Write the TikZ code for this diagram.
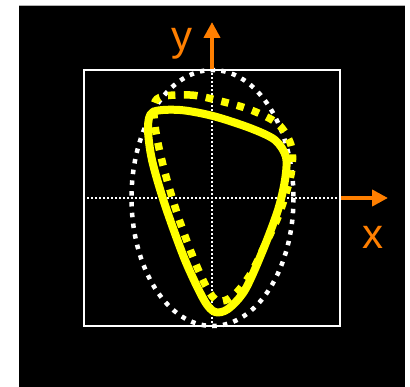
\documentclass[tikz,border=0pt]{standalone}
\usepackage{fontspec}
\setmainfont{Liberation Sans}
\usepackage{xcolor}
\usepackage{tikz}
\usetikzlibrary{positioning,arrows.meta,calc}
\definecolor{pbg}{HTML}{000000}
\definecolor{paxis}{HTML}{FF7F00}
\definecolor{pyel}{HTML}{FFFF00}
\tikzset{
  frame/.style   ={draw=white, line width=1.5pt, minimum size=256pt, inner sep=0pt},
  cross/.style   ={draw=white, line width=1.3pt, dash pattern=on 1.5pt off 2.5pt},
  circdot/.style ={draw=white, line width=4.5pt, dash pattern=on 4.5pt off 6.3pt},
  orbit/.style   ={draw=pyel, line width=8pt, line join=round},
  orbitdot/.style={draw=pyel, line width=7.5pt, dash pattern=on 7.5pt off 8.5pt},
  axis/.style    ={-{Triangle[length=16pt, width=16pt]}, line width=4pt, draw=paxis},
  axlab/.style   ={text=paxis, font=\fontsize{42}{42}\selectfont, inner sep=0pt, anchor=base},
}

\begin{document}
\begin{tikzpicture}[x=1pt, y=-1pt]
  \useasboundingbox (0,0) rectangle (410,387);
  \fill[pbg] (19,5) rectangle (405,387);
  \draw[gray!60, line width=1pt] (19,5.5) -- (405,5.5);

  \node[frame] (box) at (212,198) {};
  \draw[cross] (box.west) -- (box.east);
  \draw[cross] (box.north) -- (box.south);

  % reference ellipse
  \draw[circdot] (212.5,198) ellipse [x radius=81, y radius=128];

  % dotted orbit
  \draw[orbitdot] plot[smooth cycle, tension=0.55] coordinates {
    (157,99) (190,95) (220,101) (251,110) (278,124) (291,145) (292,168)
    (287,190) (278,217) (265,245) (250,275) (233,296) (218,301)
    (207,288) (193,257) (177,213) (163,165) (155,125)};

  % solid orbit
  \draw[orbit] plot[smooth cycle, tension=0.5] coordinates {
    (153,112) (180,110) (213,116) (250,128) (275,140) (286,157) (285,180)
    (278,210) (263,250) (245,290) (228,309) (215,312) (204,300)
    (185,260) (165,205) (152,160) (148,128)};

  % axes
  \coordinate (xtip) at (388,198);
  \coordinate (ytip) at (212,22);
  \draw[axis] (box.east) -- (xtip);
  \draw[axis] (box.north) -- (ytip);
  \node[axlab] (xl) at (373,249) {x};
  \node[axlab] (yl) at (182,51) {y};
\end{tikzpicture}
\end{document}
